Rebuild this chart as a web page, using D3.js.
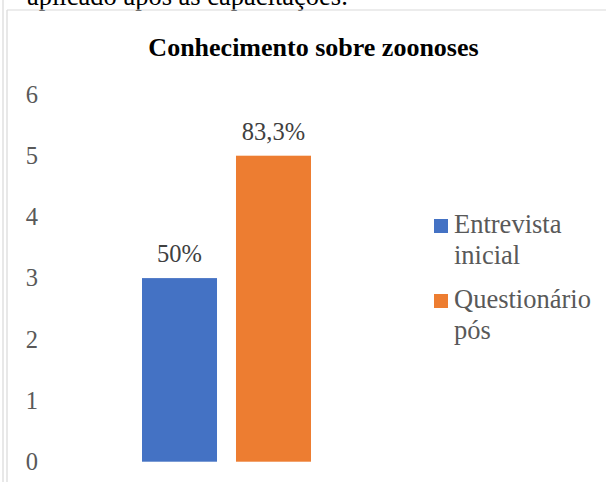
<!DOCTYPE html>
<html>
<head>
<meta charset="utf-8">
<script src="https://cdn.jsdelivr.net/npm/d3@7"></script>
<style>
  html, body { margin: 0; padding: 0; background: #fff; overflow: hidden; }
  svg { display: block; font-family: "Liberation Serif", "Times New Roman", serif; }
</style>
</head>
<body>
<svg id="chart" width="606" height="482"></svg>
<script>
// Chart data
const title = "Conhecimento sobre zoonoses";
const caption = "aplicado após as capacitações.";
const seriesNames = ["Entrevista inicial", "Questionário pós"];
const legendLines = [["Entrevista", "inicial"], ["Questionário", "pós"]];
const seriesValues = [3, 5];
const valueLabels = ["50%", "83,3%"];
const yTicks = [0, 1, 2, 3, 4, 5, 6];
const colors = ["#4472C4", "#ED7D31"];

const svg = d3.select("#chart");

// Caption line of the surrounding text, clipped by the top edge
svg.append("text")
  .attr("x", 27).attr("y", 5)
  .attr("font-size", 26.5).attr("fill", "#000")
  .text(caption);

// Frame lines
const frame = svg.append("g").attr("stroke", "#d9d9d9").attr("stroke-width", 1.2).attr("fill", "none");
frame.append("line").attr("x1", 3).attr("x2", 3).attr("y1", 0).attr("y2", 482);
frame.append("line").attr("x1", 7).attr("x2", 7).attr("y1", 10).attr("y2", 482);
frame.append("line").attr("x1", 7).attr("x2", 606).attr("y1", 10).attr("y2", 10);

// Title
svg.append("text")
  .attr("x", 313.5).attr("y", 56)
  .attr("text-anchor", "middle")
  .attr("font-size", 26).attr("font-weight", "bold").attr("fill", "#000")
  .text(title);

// Scales
const y = d3.scaleLinear().domain([0, 6]).range([461.7, 94.5]);
const x = d3.scaleBand().domain(seriesNames).range([142, 311]).paddingInner(0.202).paddingOuter(0);

// Y axis labels (no line, no ticks)
const yAxis = d3.axisLeft(y).tickValues(yTicks).tickSize(0).tickPadding(0).tickFormat(d3.format("d"));
const yg = svg.append("g").attr("transform", "translate(38,0)").call(yAxis);
yg.select(".domain").remove();
yg.selectAll("text")
  .attr("font-family", "Liberation Serif, Times New Roman, serif")
  .attr("font-size", 24.5).attr("fill", "#595959");

// Bars
svg.append("g").selectAll("rect")
  .data(seriesNames)
  .join("rect")
  .attr("x", d => x(d))
  .attr("width", x.bandwidth())
  .attr("y", (d, i) => y(seriesValues[i]))
  .attr("height", (d, i) => y(0) - y(seriesValues[i]))
  .attr("fill", (d, i) => colors[i]);

// Value labels
svg.append("g").selectAll("text")
  .data(seriesNames)
  .join("text")
  .attr("x", d => x(d) + x.bandwidth() / 2)
  .attr("y", (d, i) => y(seriesValues[i]) - 16)
  .attr("text-anchor", "middle")
  .attr("font-size", 24.5).attr("fill", "#404040")
  .text((d, i) => valueLabels[i]);

// Legend
const legend = svg.append("g");
const legendRow = 75;
seriesNames.forEach((name, i) => {
  const g = legend.append("g").attr("transform", `translate(434,${219 + i * legendRow})`);
  g.append("rect").attr("width", 14).attr("height", 14).attr("fill", colors[i]);
  const t = g.append("text").attr("font-size", 26.5).attr("fill", "#595959");
  legendLines[i].forEach((line, j) => {
    t.append("tspan").attr("x", 20).attr("y", 14.3 + j * 30.7).text(line);
  });
});
</script>
</body>
</html>
